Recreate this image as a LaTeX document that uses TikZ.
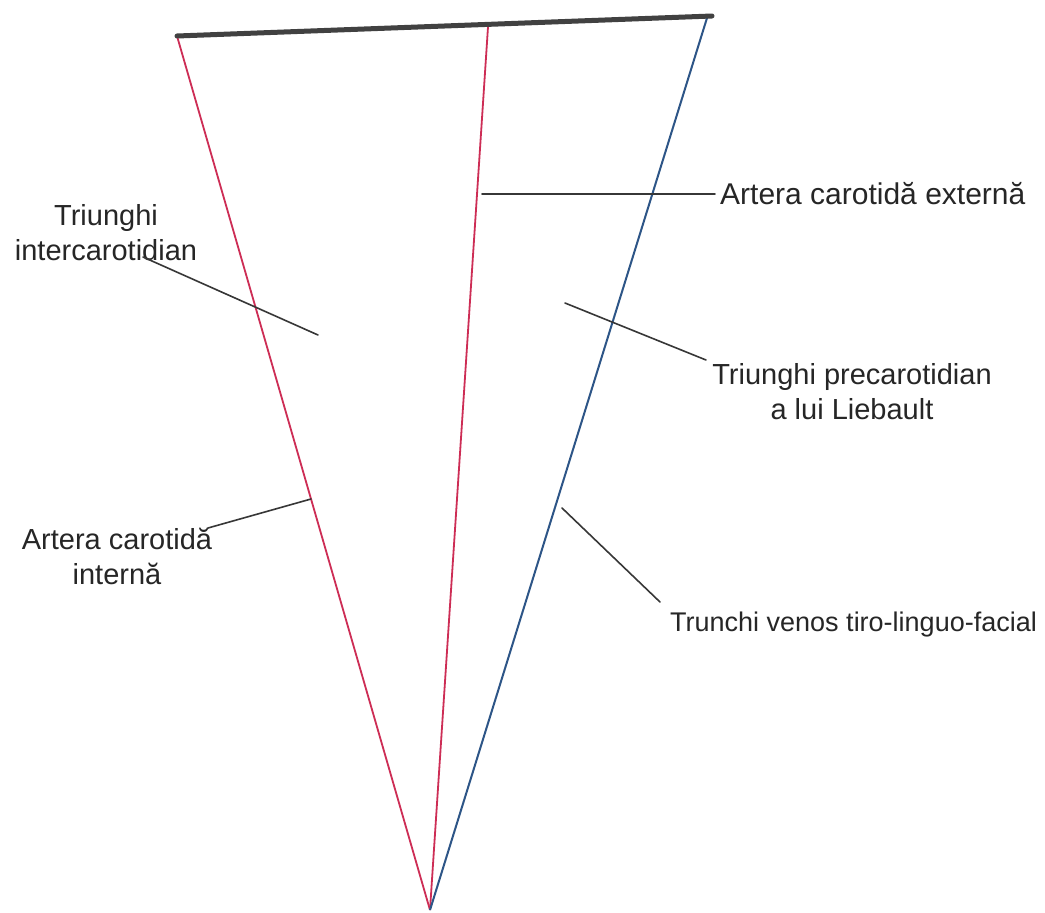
\documentclass[tikz,border=0pt]{standalone}
\usepackage{fontspec}
\setmainfont{Liberation Sans}
\definecolor{artred}{RGB}{205,45,85}
\definecolor{veinblue}{RGB}{45,85,135}
\definecolor{topgray}{RGB}{65,65,65}
\definecolor{leadgray}{RGB}{55,55,55}
\begin{document}
\begin{tikzpicture}[x=1pt,y=-1pt,
  artery/.style={draw=artred,line width=1.8pt},
  vein/.style={draw=veinblue,line width=2pt},
  leader/.style={draw=leadgray,line width=1.6pt,line cap=round},
  lbl/.style={font=\fontsize{29}{35}\selectfont,text=black!85,inner sep=0pt,align=center}]
\useasboundingbox (0,0) rectangle (1045,913);
\fill[white] (0,0) rectangle (1045,913);
% vertices
\coordinate (A) at (177,36);
\coordinate (B) at (712,16);
\coordinate (M) at (488,27);
\coordinate (V) at (707,18);
\coordinate (O) at (430,910);
% lines
\draw[artery] (A) -- (O);
\draw[artery] (M) -- (O);
\draw[vein] (V) -- (O);
\draw[draw=topgray,line width=5pt,line cap=round] (A) -- (B);
% labels
\node[lbl,anchor=west,font=\fontsize{30}{36}\selectfont] (ext) at (720,194) {Artera carotidă externă};
\node[lbl] (inter) at (106,233) {Triunghi\\intercarotidian};
\node[lbl] (pre) at (852,392) {Triunghi precarotidian\\a lui Liebault};
\node[lbl] (int) at (117,556) {Artera carotidă\\internă};
\node[lbl,anchor=west,font=\fontsize{27}{32}\selectfont] (ven) at (670,625) {Trunchi venos tiro-linguo-facial};
% leader points
\coordinate (extp) at (482,194);
\coordinate (extq) at (715,194);
\coordinate (interp) at (143,257);
\coordinate (interq) at (318,335);
\coordinate (prep) at (565,303);
\coordinate (preq) at (706,360);
\coordinate (intp) at (311,499);
\coordinate (intq) at (208,528);
\coordinate (venp) at (562,508);
\coordinate (venq) at (660,602);
\draw[leader] (extp) -- (extq);
\draw[leader] (interp) -- (interq);
\draw[leader] (prep) -- (preq);
\draw[leader] (intp) -- (intq);
\draw[leader] (venp) -- (venq);
\end{tikzpicture}
\end{document}
